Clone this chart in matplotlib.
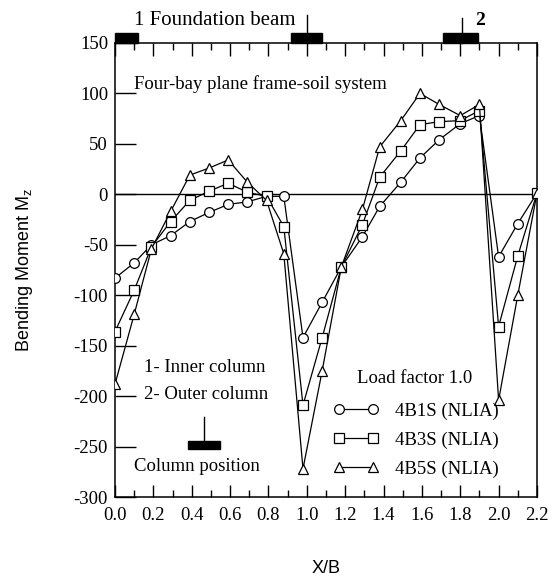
import numpy as np
import matplotlib
matplotlib.use('Agg')
import matplotlib.pyplot as plt
from matplotlib.ticker import MultipleLocator

plt.rcParams['font.family'] = ['Liberation Serif', 'DejaVu Serif']
plt.rcParams['axes.unicode_minus'] = False

# data
x_b = [0.0, 0.1, 0.19, 0.29, 0.39, 0.49, 0.59, 0.69, 0.79, 0.88, 0.98, 1.08,
       1.18, 1.29, 1.38, 1.49, 1.59, 1.69, 1.8, 1.9, 2.0, 2.1, 2.2]
m_4b1s = [-83, -68, -50, -41, -27, -18, -10, -7.5, -2, -2, -142, -107,
          -72, -42, -12, 12, 36, 54, 70, 78, -62, -29, 1]
m_4b3s = [-136, -95, -52, -27, -6, 3, 11, 2, -2, -32, -209, -142,
          -72, -30, 17, 43, 69, 72, 73, 83, -131, -61, 1]
m_4b5s = [-188, -119, -54, -17, 19, 26, 34, 12, -6, -59, -272, -175,
          -72, -15, 47, 73, 100, 89, 78, 89, -204, -100, 1]

series = [(m_4b1s, 'o', '4B1S (NLIA)'),
          (m_4b3s, 's', '4B3S (NLIA)'),
          (m_4b5s, '^', '4B5S (NLIA)')]

fig = plt.figure(figsize=(5.53, 5.80), dpi=100)
ax = fig.add_axes([0.208, 0.143, 0.763, 0.783])

ax.axhline(0, color='black', lw=1.0, zorder=1)
lines = []
for m, mk, lab in series:
    ln, = ax.plot(x_b, m, color='black', lw=0.9, marker=mk, markersize=7,
                  markerfacecolor='white', markeredgecolor='black',
                  markeredgewidth=0.9, label=lab, zorder=3)
    lines.append(ln)

ax.set_xlim(0, 2.2)
ax.set_ylim(-300, 150)
ax.xaxis.set_major_locator(MultipleLocator(0.2))
ax.xaxis.set_minor_locator(MultipleLocator(0.1))
ax.yaxis.set_major_locator(MultipleLocator(50))
ax.xaxis.set_major_formatter(matplotlib.ticker.FormatStrFormatter('%.1f'))
ax.tick_params(axis='x', which='major', direction='in', length=9, width=1,
               top=True, labelsize=13.5, pad=7)
ax.tick_params(axis='x', which='minor', direction='in', length=5, width=1,
               top=True)
ax.tick_params(axis='y', which='major', direction='in', length=15, width=1,
               right=False, labelsize=13.5, pad=5)
for s in ax.spines.values():
    s.set_linewidth(1.1)

ax.set_xlabel('X/B', family='Liberation Sans', fontsize=13, labelpad=26)
ax.set_ylabel('Bending Moment M$_\\mathregular{z}$', family='Liberation Sans',
              fontsize=13, labelpad=28)

# foundation beam / column markers above the top spine
tr = ax.get_xaxis_transform()
for x0, x1 in [(0.0, 0.12), (0.92, 1.08), (1.71, 1.89)]:
    ax.add_patch(plt.Rectangle((x0, 1.0), x1 - x0, 0.022, transform=tr,
                               color='black', clip_on=False))
ax.plot([1.0, 1.0], [1.0, 1.062], color='black', lw=1, transform=tr,
        clip_on=False)
ax.plot([1.81, 1.81], [1.0, 1.055], color='black', lw=1, transform=tr,
        clip_on=False)
ax.text(0.1, 1.05, '1 Foundation beam', transform=tr, fontsize=15,
        va='center', ha='left')
ax.text(1.88, 1.05, '2', transform=tr, fontsize=14, fontweight='bold',
        va='center', ha='left')

ax.text(0.1, 109, 'Four-bay plane frame-soil system', fontsize=13.5,
        va='center', ha='left')
ax.text(0.15, -172, '1- Inner column', fontsize=13.5, va='center', ha='left')
ax.text(0.15, -198, '2- Outer column', fontsize=13.5, va='center', ha='left')
ax.text(0.1, -270, 'Column position', fontsize=13.5, va='center', ha='left')

# column position symbol
ax.add_patch(plt.Rectangle((0.38, -252), 0.165, 8, color='black'))
ax.plot([0.465, 0.465], [-244, -221], color='black', lw=1)

ax.text(1.26, -183, 'Load factor 1.0', fontsize=13.5, va='center', ha='left')
ax.legend(handles=lines, loc='upper left', bbox_to_anchor=(0.5, 0.225),
          frameon=False, numpoints=2, handlelength=2.4, handletextpad=0.9,
          labelspacing=0.62, fontsize=13.5, borderaxespad=0)

fig.savefig('out.png', dpi=100)
